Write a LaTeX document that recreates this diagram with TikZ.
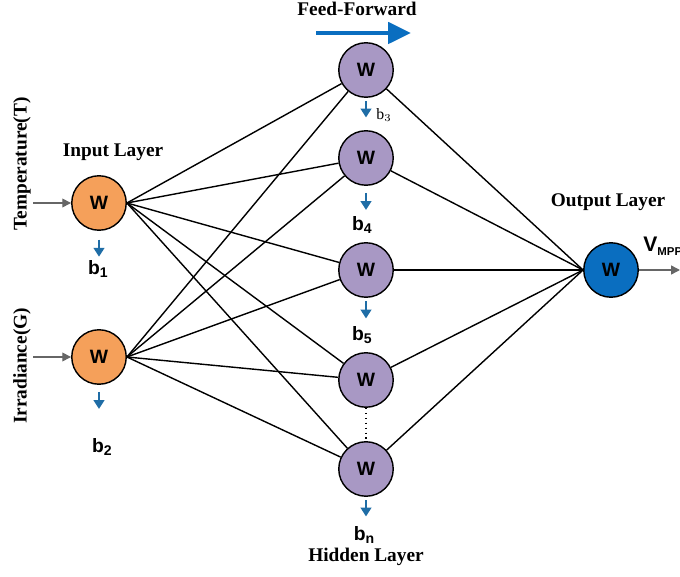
\documentclass[tikz,border=0pt]{standalone}
\usepackage{fontspec}
\setmainfont{Liberation Serif}
\setsansfont{Liberation Sans}
\usepackage{xcolor}
\usetikzlibrary{positioning, arrows.meta}

\definecolor{inorange}{HTML}{F5A05A}
\definecolor{hidpurple}{HTML}{A898C4}
\definecolor{outblue}{HTML}{0A6EC0}
\definecolor{biasblue}{HTML}{1F6DA6}

\tikzset{
    neuron/.style={circle, draw=black, line width=0.8pt, minimum size=31pt, inner sep=0pt,
        font=\sffamily\bfseries\fontsize{11}{12}\selectfont},
    layerlabel/.style={font=\bfseries\fontsize{11}{12}\selectfont},
    biasarrow/.style={-{Triangle[length=5pt,width=6pt]}, biasblue, line width=1.3pt},
    biaslabel/.style={font=\sffamily\bfseries\fontsize{11}{12}\selectfont},
    signal/.style={-{Triangle[length=5pt,width=5pt]}, gray!80!black, line width=0.8pt},
    link/.style={line width=0.8pt}
}

\begin{document}
\begin{tikzpicture}[x=0.02cm, y=-0.02cm]
    \useasboundingbox (0,0) rectangle (680,577);

    % input layer
    \node[neuron, fill=inorange] (i1) at (99,203) {W};
    \node[neuron, fill=inorange] (i2) at (99,357) {W};
    \node[layerlabel] (inlab) at (113,152) {Input Layer};

    % hidden layer
    \foreach \n/\y in {1/70, 2/158, 3/270, 4/380, 5/469} {
        \node[neuron, fill=hidpurple] (h\n) at (366,\y) {W};
    }
    \node[layerlabel] (hidlab) at (366,557) {Hidden Layer};
    \draw[dotted, line width=0.8pt] (h4) -- (h5);

    % output layer
    \node[neuron, fill=outblue] (o) at (611,270) {W};
    \node[layerlabel] (outlab) at (608,202) {Output Layer};

    % connections
    \foreach \i in {1,2} {
        \foreach \n in {1,...,5} {
            \draw[link] (i\i.east) -- (h\n);
        }
    }
    \foreach \n in {1,...,5} {
        \draw[link] (h\n) -- (o.west);
    }

    % inputs and output
    \node[layerlabel, rotate=90] (temp) at (22,164) {Temperature(T)};
    \node[layerlabel, rotate=90] (irr) at (22,366) {Irradiance(G)};
    \coordinate (tin) at (33,203);
    \coordinate (gin) at (33,357);
    \coordinate (vout) at (680,270);
    \draw[signal] (tin) -- (i1);
    \draw[signal] (gin) -- (i2);
    \draw[signal] (o) -- (vout);
    \node[anchor=west, font=\sffamily\bfseries\fontsize{12}{12}\selectfont, inner sep=0pt] (vmpp) at (643,246)
        {V\raisebox{-0.35ex}{\fontsize{6.5}{7}\selectfont MPP}};

    % biases
    \draw[biasarrow] ([yshift=-5pt]i1.south) -- ++(0,17);
    \node[biaslabel] (b1) at (98,269) {b\raisebox{-0.3ex}{\fontsize{8}{8}\selectfont 1}};
    \draw[biasarrow] ([yshift=-4pt]i2.south) -- ++(0,17);
    \node[biaslabel] (b2) at (102,447) {b\raisebox{-0.3ex}{\fontsize{8}{8}\selectfont 2}};
    \draw[biasarrow] ([yshift=-2pt]h1.south) -- ++(0,16);
    \node[font=\fontsize{9}{10}\selectfont] (b3) at (384,115) {b$_3$};
    \draw[biasarrow] ([yshift=-4pt]h2.south) -- ++(0,17);
    \node[biaslabel] (b4) at (362,225) {b\raisebox{-0.3ex}{\fontsize{8}{8}\selectfont 4}};
    \draw[biasarrow] ([yshift=-2pt]h3.south) -- ++(0,17);
    \node[biaslabel] (b5) at (362,335) {b\raisebox{-0.3ex}{\fontsize{8}{8}\selectfont 5}};
    \draw[biasarrow] ([yshift=-2pt]h5.south) -- ++(0,16);
    \node[biaslabel] (bn) at (364,535) {b\raisebox{-0.3ex}{\fontsize{8}{8}\selectfont n}};

    % feed-forward direction
    \node[layerlabel] (ff) at (357,9) {Feed-Forward};
    \coordinate (ffa) at (316,33);
    \coordinate (ffb) at (411,33);
    \draw[-{Triangle[length=13pt,width=12pt]}, outblue, line width=2.4pt] (ffa) -- (ffb);
\end{tikzpicture}
\end{document}
